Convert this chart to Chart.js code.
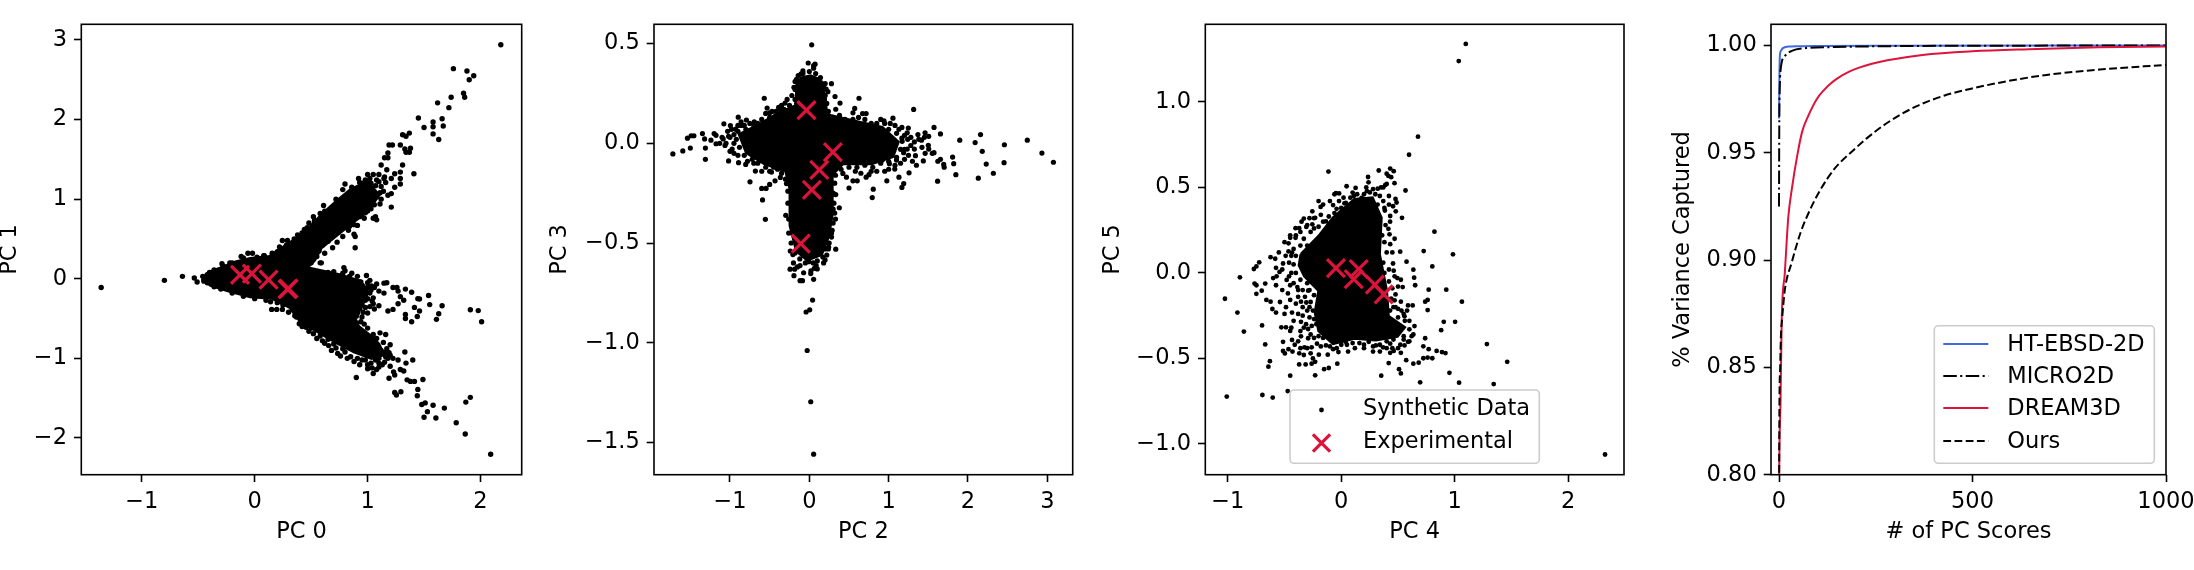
<!DOCTYPE html>
<html>
<head>
<meta charset="utf-8">
<style>
  html, body { margin: 0; background: #fff; overflow: hidden; }
  canvas { position: absolute; top: 0; }
</style>
<script src="https://cdn.jsdelivr.net/npm/chart.js@4"></script>
</head>
<body>
<canvas id="chart01" style="left:-3px"></canvas>
<canvas id="chart23" style="left:547px"></canvas>
<canvas id="chart45" style="left:1100px"></canvas>
<canvas id="chartVar" style="left:1670px"></canvas>
<script>
'use strict'

//------------- Tick values ------------- //
var ticksPc0 = [-1, 0, 1, 2];
var ticksPc1 = [-2, -1, 0, 1, 2, 3];
var ticksPc2 = [-1, 0, 1, 2, 3];
var ticksPc3 = [-1.5, -1.0, -0.5, 0.0, 0.5];
var ticksPc4 = [-1, 0, 1, 2];
var ticksPc5 = [-1.0, -0.5, 0.0, 0.5, 1.0];
var ticksScores = [0, 500, 1000];
var ticksVariance = [0.80, 0.85, 0.90, 0.95, 1.00];

//------------- PC 0 / PC 1 ------------- //
// outline of the solid black region, the dots around it are listed below
var core01 = [[-.47,0],[-.405,.08],[-.295,.14],[-.17,.21],[-.04,.255],[.13,.28],[.245,.39],[.37,.505],[.5,.665],[.59,.8],[.72,.97],[.85,1.12],[1,1.22],[1.1,1.05],[1,.85],[.88,.72],[.74,.56],[.59,.39],[.53,.23],[.465,.14],[.61,.095],[.75,.05],[.93,-.03],[1,-.16],[.95,-.35],[.88,-.47],[.92,-.6],[1.03,-.72],[1.1,-.82],[1.145,-.955],[1.035,-1],[.88,-.92],[.72,-.8],[.55,-.66],[.4,-.53],[.31,-.36],[.15,-.245],[-.04,-.225],[-.23,-.155],[-.39,-.085]];
var synth01 = [[-1.36,-.11],[-.8,-.02],[-.64,.03],[-.535,.01],[-.51,-.04],
  [2.18,2.94],[1.76,2.64],[1.88,2.61],[1.9,2.5],[1.94,2.55],[1.62,2.21],[1.74,2.28],[1.85,2.33],[1.86,2.28],[1.72,2.15],[1.45,2.02],[1.5,1.9],[1.58,1.97],[1.58,1.91],[1.66,2.01],[1.67,1.92],[1.58,1.82],[1.63,1.75],[1.31,1.81],[1.37,1.83],[1.34,1.79],[1.19,1.68],[1.22,1.68],[1.29,1.68],[1.33,1.63],[1.38,1.64],[1.37,1.59],[1.34,1.59],[1.18,1.58],[1.15,1.52],[1.18,1.52],[1.31,1.43],[1.12,1.43],[1.41,1.32],[1.29,1.34],[1.24,1.32],[1.17,1.37],[1.21,1.26],[1.29,1.26],[1.29,1.19],[1.24,1.15],[1.21,1.07],[1.21,.9],[1.07,.78],[1.05,.76],[1.08,.74],[.89,.39],[.89,.53],[.88,.56],[.79,.14],[.58,.2],
  [-.29,.19],[-.2,.2],[-.12,.28],[-.06,.32],[-.02,.32],[.085,.29],[.155,.32],[.245,.48],[.29,.48],[.42,.575],[.465,.64],[.53,.735],[.61,.92],[.72,1],[.8,1.19],[.78,1.12],[.86,1.15],[.92,1.26],[.93,1.21],[1,1.31],[1.05,1.31],[1.1,1.31],[1.145,1.26],[1.16,1.21],[1.07,1.17],[1.11,1.08],[1.05,1.01],[1,.92],[1.11,.94],[.97,.76],[.91,.67],[.83,.61],[.78,.53],[.73,.46],[.69,.39],[.62,.32],[.59,.2],
  [.8,.1],[.86,.07],[.91,.03],[.99,.04],[.94,-.04],[1.035,-.09],[1.08,-.065],[1.145,-.055],[1.17,-.05],[.91,-.11],[.97,-.155],[1.1,-.155],[1.145,-.18],[1.225,-.11],[1.26,-.11],[1.27,-.155],[1.335,-.13],[1.39,-.17],[1.445,-.25],[1.46,-.255],[1.54,-.21],[1.29,-.225],[1.32,-.27],[1.27,-.315],[1.225,-.385],[1.18,-.405],[1.1,-.34],[1.05,-.315],[1,-.43],[.91,-.43],[1.335,-.45],[1.415,-.36],[1.46,-.405],[1.335,-.5],[1.39,-.54],[1.44,-.475],[1.55,-.325],[1.66,-.34],[1.63,-.44],[1.61,-.51],[1.91,-.39],[1.98,-.4],[2.01,-.54],[.88,-.52],[.94,-.54],[.97,-.57],[.91,-.61],
  [1,-.73],[1.11,-.68],[1.16,-.7],[1.2,-.83],[1.225,-1],[1.33,-.92],[1.27,-1.02],[1.4,-1.02],[1.34,-1.06],[1.19,-1.25],[1.23,-1.17],[1.29,-1.14],[1.32,-1.16],[1.24,-1.21],[1.05,-1.19],[1.1,-1.11],[.9,-1.24],[1.35,-1.27],[1.38,-1.29],[1.415,-1.29],[1.49,-1.265],[1.24,-1.43],[1.255,-1.46],[1.295,-1.42],[1.445,-1.39],[1.44,-1.47],[1.48,-1.58],[1.51,-1.56],[1.58,-1.59],[1.53,-1.67],[1.5,-1.74],[1.605,-1.75],[1.68,-1.625],[1.87,-1.55],[1.91,-1.49],[1.785,-1.81],[1.865,-1.95],[2.09,-2.205],
  [.735,-.94],[.8,-.92],[.91,-1],[.655,-.84],[.62,-.81],[.52,-.69],[.455,-.61],[.395,-.565],[.355,-.465],[.245,-.385],[.195,-.385],[.15,-.385],[.14,-.29],[1.15,-1.05],[1.07,-1.02],[1,-1.08],[.95,-1.02],
  [.65,.72],[.7,.8],[.76,.87],[.72,.9],[.82,.97],[.78,.98],[.87,1.05],[.9,1.12],[.82,1.05],[.96,1.2],[.98,1.12],[1.03,1.2],[1.08,1.24],[1.12,1.16],[1.14,1.1],[1.08,1.03],[1.03,.96],[.97,.9],[.98,.83],[.93,.78],[.87,.74],[.88,.68],[.8,.65],[.74,.58],[.68,.52],[.65,.47],[.6,.42],[.57,.35],[.55,.28],[.5,.2],[.33,.43],[.4,.52],[.46,.58],[.56,.7],[.6,.76],
  [.65,.08],[.7,.09],[.78,.07],[.84,.03],[.93,-.04],[.96,-.1],[.98,-.2],[1.02,-.18],[1.05,-.24],[.98,-.27],[.95,-.33],[.93,-.38],[.88,-.4],[.83,-.44],[.8,-.47],[.84,-.5],[.9,-.56],[1,-.62],[1.05,-.7],[1.08,-.75],[1.14,-.8],[1.17,-.88],[1.15,-.93],[1.18,-1],[1.1,-1],[1.03,-1.06],[.98,-1.02],[.85,-.98],[.78,-.88],[.7,-.82],[.65,-.76],[.58,-.72],[.5,-.62],[.44,-.55],[.37,-.48],[.3,-.42],[.25,-.33],[.2,-.3],[.1,-.27],[0,-.25],[-.1,-.22],[-.2,-.18],[-.3,-.13],[-.36,-.1],[-.42,-.05],[-.42,.05],[-.36,.11],[-.28,.16],[-.22,.2],[-.1,.26],[.02,.27],[.08,.29],[.2,.34],[.28,.42],[.35,.5],[.42,.56],[.5,.62],[.53,.7],
  [.88,-.02],[.9,-.07],[.95,-.08],[1,-.05],[1.02,-.02],[.97,-.13],[1,-.11],[1.03,-.14],[1.06,-.11],[.96,-.22],[1,-.25],[1.04,-.28],[.92,-.25],[.94,-.3],[.98,-.36],[1.02,-.35],[1.06,-.38],[.9,-.33],[.88,-.37],[.96,-.42],[.86,-.43],[.84,-.47],[.9,-.47],[.95,-.48],[.82,-.53],[.87,-.58],[.92,-.66],[.96,-.7],[1.02,-.74],[1.04,-.8],[1.08,-.85],[1.12,-.9],[1.19,-.93],[1.16,-.98],[1.2,-.96],[1.1,-1.06],[1.13,-1.08],[1.2,-1.1],[1.08,-1.14],[1.04,-1.12],[1,-1.13],[.93,-1.08],[.88,-1.04],[.82,-1],[.76,-.97],[.72,-.87],[.68,-.9],[.6,-.78],[.55,-.75],[.48,-.66],[.42,-.6],
  [.55,.63],[.6,.68],[.64,.66],[.7,.65],[.76,.7],[.8,.76],[.84,.8],[.9,.85],[.94,.88],[1,.85],[1.03,.88],[1.06,.93],[1.12,1],[1.18,1.05],[.68,.85],[.74,.93],[.78,.93],[.84,1.02],[.9,1.05],[.98,1.24],[1.02,1.26],[1.1,1.22],[1.15,1.28],[.66,.78],[.62,.85],[.58,.82],[.52,.78],[.48,.7],[.44,.62],[.38,.55],[.3,.45],[.22,.4],[.66,.56],[.62,.5],[.6,.46],[.56,.44],[.74,.62],[.84,.66],
  [-.46,.03],[-.45,-.03],[-.4,.08],[-.35,.1],[-.38,-.07],[-.3,-.1]];
var exp01 = [[-.13,.05],[-.025,.064],[.123,-.01],[.29,-.13],[.3,-.125]];

//------------- PC 2 / PC 3 ------------- //
var core23 = [[-.117,.326],[.018,.339],[.144,.317],[.198,.226],[.221,.144],[.604,.108],[.919,.08],[1.12,.007],[1.054,-.066],[.784,-.102],[.423,-.102],[.288,-.157],[.288,-.357],[.243,-.467],[.153,-.558],[-.027,-.585],[-.162,-.54],[-.243,-.412],[-.243,-.23],[-.297,-.139],[-.568,-.102],[-.793,-.047],[-.883,.044],[-.613,.098],[-.387,.153],[-.162,.19],[-.162,.29]];
var synth23 = [[.03,.494],[-.014,.403],[.054,.39],[.072,.397],[.054,.377],[-.081,.363],[-.104,.348],[-.162,.321],[-.194,.281],[.279,.299],[.212,.272],[.234,.259],[.324,.235],[.387,.202],[.626,.226],[.572,.175],[.55,.153],[.671,.149],[.716,.149],[.333,.171],[1.315,.17],[-.568,.226],[-.532,.177],[-.5,.153],[-.387,.18],[-.306,.202],[-.365,.171],
  [-1.72,-.053],[-1.595,-.038],[-1.5,-.024],[-1.536,.026],[-1.49,.038],[-1.455,.038],[-1.347,.049],[-1.32,.022],[-1.31,-.024],[-1.31,-.08],[-1.24,.016],[-1.2,.049],[-1.176,.04],[-1.176,-.002],[-1.077,.098],[-1.086,.022],[-1.063,-.011],[-1.018,-.088],[-.995,.089],[-.896,.131],[-.86,.108],[-.793,.117],[-.694,.108],[-.95,.044],[-1.018,.035],[-.928,.071],[-.973,-.029],[-.892,-.097],[-.802,-.106],[-.748,-.193],[-.68,-.139],[-.6,-.226],[-.545,-.226],[-.5,-.206],[-.59,-.284],[-.554,-.381],[-.432,-.188],[-.365,-.171],[-.477,-.144],[-.288,-.202],[-.297,-.361],
  [-.243,-.631],[-.185,-.631],[-.194,-.664],[-.117,-.689],[-.086,-.689],[-.072,-.649],[.018,-.653],[.063,-.627],[.054,-.682],[.041,-.786],[.005,-.835],[-.041,-.846],[-.027,-1.039],[.018,-1.296],[.054,-1.559],[.333,-.531],[.198,-.585],[.288,-.436],[.378,-.323],[.333,-.257],[.288,-.257],[.198,-.467],[.243,-.521],[-.207,-.558],[-.117,-.613],[-.005,-.594],[.086,-.613],
  [1.054,.126],[.941,.113],[.806,.08],[1.167,.08],[1.248,.077],[1.234,.053],[1.572,.08],[1.459,.053],[1.369,.044],[1.505,.035],[1.653,.047],[1.896,.016],[2.09,.004],[2.158,.044],[2.459,-.007],[2.748,.016],[2.932,-.049],[3.077,-.095],[2.18,-.04],[2.23,-.104],[2.455,-.097],[2.32,-.15],[2.13,-.175],[1.847,-.157],[1.82,-.102],[1.806,-.069],[1.694,-.106],[1.653,-.08],[1.617,-.19],[1.572,-.047],[1.505,-.029],[1.437,-.088],[1.338,-.062],[1.257,-.148],[1.19,-.202],[1.167,-.221],[1.13,-.17],[1.077,-.129],[.977,-.188],[.806,-.23],[.793,-.272],[.752,-.157],[.716,-.17],[.604,-.188],[.55,-.188],[.5,-.224],[.468,-.17],[.423,-.151],[1.279,-.011],[1.324,.007],[1.414,.016],[1.189,-.047],[1.234,-.029],[1.167,.026],[1.324,-.029],[1.099,-.084],[1.009,-.102],[.919,-.084],
  [.7,.12],[.78,.1],[.85,.1],[.95,.1],[1,.07],[1.1,.05],[1.17,.01],[1.15,-.03],[1.1,-.07],[1,-.09],[.9,-.1],[.8,-.12],[.7,-.11],[.6,-.12],[.5,-.12],[.4,-.13],[.33,-.16],[.32,-.2],[.3,-.25],[.31,-.3],[.32,-.35],[.3,-.4],[.28,-.45],[.25,-.5],[.2,-.53],[.17,-.57],[.1,-.59],[.05,-.6],[-.05,-.6],[-.12,-.58],[-.18,-.55],[-.23,-.5],[-.26,-.45],[-.26,-.38],[-.27,-.3],[-.27,-.24],[-.3,-.18],[-.35,-.15],[-.45,-.12],[-.55,-.12],[-.65,-.1],[-.72,-.08],[-.82,-.06],[-.88,-.02],[-.92,.02],[-.9,.06],[-.8,.07],[-.7,.09],[-.6,.12],[-.5,.13],[-.42,.16],[-.32,.17],[-.25,.19],[-.18,.22],[-.18,.27],[-.18,.31],[-.14,.34],[-.08,.35],[0,.36],[.08,.35],[.14,.33],[.18,.28],[.2,.24],[.22,.2],[.24,.16],[.3,.13],[.38,.14],[.45,.12],[.55,.12],[.62,.13],
  [-1,.03],[-1.03,.06],[-.98,.07],[-.95,0],[-1.05,0],[-1.1,.03],[-1.13,0],[-1,-.04],[-.95,-.05],[-.9,-.06],[-.86,.09],[-.9,.09],[-.82,.09],[-.75,.1],[-.65,.1],[-.78,-.09],[-.7,-.1],[-.6,-.14],[-.5,-.14],[-.4,-.13],[-.47,.16],[-.55,.15],[-.35,.19],[-.28,.22],[-.22,.24],[-.24,.15],
  [1.2,.04],[1.24,.02],[1.28,.03],[1.2,-.03],[1.25,-.06],[1.3,-.09],[1.35,-.11],[1.2,-.08],[1.15,-.1],[1.08,-.11],[1,-.13],[.95,-.14],[.85,-.14],[.78,-.14],[.65,-.15],[.58,-.14],[.9,.12],[1.02,.1],[1.08,.09],[1.13,.07],[1.38,.02],[1.45,.03],[1.5,-.01],[1.55,-.05],[1.62,-.09],[1.7,-.12],[1.46,-.05],[1.42,-.02],
  [-.16,.27],[-.16,.2],[.2,.3],[.16,.3],[.19,.22],[-.22,-.45],[-.24,-.54],[.28,-.47],[.24,-.53],[.18,-.6],[.22,-.56],[.02,-.64],[-.15,-.62],[.1,-.63],[-.2,-.6],[.3,-.33],[.33,-.38]];
var exp23 = [[-.036,.166],[.297,-.044],[.126,-.133],[.032,-.233],[-.108,-.503]];

//------------- PC 4 / PC 5 ------------- //
var core45 = [[-.355,.109],[-.198,.215],[-.072,.322],[.116,.429],[.274,.439],[.352,.322],[.336,.109],[.399,-.104],[.415,-.254],[.557,-.318],[.494,-.371],[.305,-.392],[.116,-.382],[-.072,-.414],[-.198,-.339],[-.23,-.232],[-.198,-.104],[-.324,-.019],[-.371,.045]];
var synth45 = [[1.097,1.339],[1.035,1.239],[.676,.797],[.597,.691],[-.113,.593],[.047,.507],[.126,.497],[.236,.561],[.33,.599],[.431,.61],[.462,.595],[.415,.567],[.469,.525],[.387,.514],[.321,.493],[.252,.471],[.226,.478],[.566,.482],[.478,.433],[.487,.412],[.456,.39],[.384,.365],[.431,.333],[.535,.322],[.415,.258],[.425,.226],[.431,.168],[.519,.124],[.575,.066],[.456,.055],[.726,.128],[.821,.241],[.984,.109],[.802,.038],[.635,.019],[.642,-.028],[.651,-.072],[.77,-.098],[.925,-.098],[.761,-.158],[.739,-.168],[.761,-.217],[1.063,-.168],[.629,-.19],[.588,-.19],[.494,-.03],[.462,.013],[.525,-.04],[.541,-.083],[.478,-.126],[.525,-.168],[.478,-.2],[.557,-.254],[.645,-.311],[.635,-.36],[.588,-.403],[.557,-.424],[.525,-.467],[.572,-.51],[.462,-.456],[.431,-.467],[.418,-.527],[.509,-.563],[.525,-.588],[.352,-.601],[.635,-.531],[.682,-.525],[.723,-.499],[.761,-.495],[.802,-.499],[.739,-.382],[.723,-.429],[.77,-.446],[.84,-.456],[.887,-.463],[.918,-.469],[.88,-.335],[.903,-.286],[1.003,-.286],[1.283,-.416],[1.462,-.52],[.953,-.584],[1.038,-.642],[1.343,-.65],[.695,-.64],[2.324,-1.062],
  [-1.025,-.151],[-.915,-.232],[-.858,-.343],[-.893,-.026],[-1.009,-.723],[-.695,-.714],[-.604,-.729],[-.472,-.691],[-.45,-.601],[-.23,-.599],[-.151,-.563],[-.11,-.556],[-.035,-.531],[-.23,-.52],[-.261,-.531],[-.314,-.535],[-.371,-.535],[-.629,-.516],[-.642,-.548],[-.67,-.418],[-.698,-.307],[-.513,-.456],[-.497,-.471],[-.465,-.446],[-.513,-.403],[-.528,-.318],[-.487,-.318],[-.45,-.339],[-.434,-.392],[-.355,-.371],[-.292,-.328],[-.355,-.286],[-.434,-.232],[-.487,-.2],[-.45,-.158],[-.575,-.232],[-.607,-.211],[-.623,-.168],[-.66,-.158],[-.701,-.104],[-.67,-.062],[-.748,-.072],[-.764,-.062],[-.748,-.122],[-.575,-.072],[-.481,-.041],[-.45,-.072],[-.387,-.083],[-.355,-.168],[-.308,-.173],[-.292,-.104],[-.77,.023],[-.748,.038],[-.723,.062],[-.623,.092],[-.582,.083],[-.575,.03],[-.513,.055],[-.544,.006],[-.465,.126],[-.434,.119],[-.45,.205],[-.403,.205],[-.465,.173],[-.403,.262],[-.371,.262],[-.33,.318],[-.308,.269],[-.23,.322],[-.255,.284],[-.182,.386],[-.255,.36],[-.135,.301],[-.072,.397],[-.047,.467],[-.019,.465],[-.041,.375],[.028,.407],[.11,.45],[.179,.439],
  [-.292,-.382],[-.214,-.414],[-.135,-.424],[-.198,-.478],[-.119,-.478],[-.025,-.463],[-.072,-.446],[.038,-.403],[.242,-.403],[.305,-.424],[.368,-.435],[.431,-.414],[-.324,-.435],[-.261,-.435],
  [-.33,.2],[-.3,.16],[-.27,.24],[-.24,.26],[-.36,.16],[-.4,.1],[-.42,.05],[-.4,0],[-.36,-.04],[-.3,-.06],[-.28,-.1],[-.24,-.13],[-.27,-.17],[-.25,-.22],[-.28,-.26],[-.31,-.3],[-.26,-.31],[-.24,-.27],[-.22,-.3],[-.2,-.37],[-.16,-.38],[-.1,-.43],[-.04,-.44],[0,-.42],[.05,-.42],[.1,-.41],[.16,-.41],[.2,-.42],[.28,-.43],[.34,-.42],[.4,-.4],[.46,-.39],[.55,-.37],[.6,-.33],[.56,-.28],[.5,-.26],[.46,-.2],[.44,-.15],[.45,-.09],[.42,-.05],[.38,0],[.37,.06],[.4,.12],[.38,.18],[.36,.22],[.39,.28],[.38,.38],[.32,.4],[.3,.46],[.2,.46],[.14,.46],[.08,.44],[.04,.41],[0,.38],[-.06,.35],[-.11,.33],[-.16,.3],[-.2,.27],[.34,.45],[.37,.42],[.42,.45],[.35,.5],[.4,.52],[.44,.56],[.4,.58],
  [-.42,.14],[-.44,.1],[-.46,.06],[-.44,0],[-.46,-.02],[-.42,-.06],[-.38,-.1],[-.34,-.1],[-.38,-.14],[-.32,-.14],[-.28,-.2],[-.3,-.22],[-.34,-.2],[-.38,-.24],[-.34,-.25],[-.33,-.32],[-.27,-.36],[-.24,-.38],[-.36,-.34],[-.38,-.4],[-.41,-.42],[-.18,-.43],[-.3,-.44],[-.36,-.44],[-.3,.08],[-.36,.24],[-.3,.28],[-.24,.32],[-.18,.34],[-.2,.42],[-.16,.4],[-.1,.42],[-.06,.46],[-.28,.32],[-.35,.3],[-.4,.22],[-.45,.22],[-.52,.02],[-.49,.1],[-.5,.18],[-.55,.12],[-.57,-.02],[-.6,-.03],[-.52,-.1],[-.54,-.17],[-.5,-.24],[-.42,-.28],[-.4,-.18],[-.47,-.12],[-.44,-.32],[-.43,-.46],[-.37,-.47],[-.33,-.48],[-.27,-.47],[-.25,-.5],
  [.43,.3],[.47,.2],[.45,.12],[.42,.02],[.47,-.02],[.5,-.08],[.47,-.16],[.43,-.22],[.5,-.21],[.53,-.22],[.58,-.22],[.6,-.28],[.55,-.24],[.62,-.37],[.6,-.4],[.5,-.44],[.45,-.44],[.4,-.44],[.34,-.46],[.28,-.46],[.2,-.44],[.12,-.44],[.06,-.46],[.52,-.42],[.55,-.39],[.42,.4],[.48,.36],[.37,.5],[.28,.49],[.22,.5],[.24,.53],[.1,.47],[.02,.44],[-.02,.42]];
var exp45 = [[-.047,.028],[.154,.023],[.11,-.036],[.296,-.068],[.374,-.126]];

//------------- Variance curves ------------- //
var curveHtEbsd = [[0,.966],[0.5,.975],[1,.985],[2,.9945],[5,.9975],[10,.9988],[24,.9995],[50,.9997],[100,.9998],[300,.9999],[1000,1]];
var curveMicro2d = [[0,.925],[0.5,.955],[1,.9707],[2,.981],[5,.99],[15,.995],[33,.9975],[70,.9988],[143,.9993],[280,.9997],[500,.9999],[1000,1]];
var curveDream3d = [[0,.78],[0.5,.8],[4,.835],[7,.872],[15,.894],[24,.92],[33,.933],[47,.9486],[60,.96],[75,.967],[97,.9749],[115,.979],[135,.9825],[152,.9848],[180,.9877],[207,.9897],[240,.9915],[280,.9931],[371,.9956],[499,.9973],[645,.9983],[828,.9992],[1000,.9995]];
var curveOurs = [[0,.78],[1,.83],[3,.85],[5,.865],[8,.8726],[15,.886],[33,.899],[56,.913],[79,.923],[106,.9325],[143,.9425],[188,.9505],[225,.9565],[280,.964],[353,.9715],[426,.9766],[499,.98],[590,.9834],[691,.9863],[828,.9888],[1000,.991]];

var legendScatter = ['Synthetic Data', 'Experimental'];
var legendCurves = ['HT-EBSD-2D', 'MICRO2D', 'DREAM3D', 'Ours'];

var CRIMSON = '#dc143c';
var ROYALBLUE = '#4169e1';
var DASHDOT = [13.5, 3.4, 2.1, 3.4];
var DASHED = [7.8, 3.4];
var FONT_SIZE = 22.5;

Chart.defaults.font.family = '"DejaVu Sans"';
Chart.defaults.font.size = FONT_SIZE;
Chart.defaults.color = '#000';

function toPoints(pairs) {
  return pairs.map(function (p) { return { x: p[0], y: p[1] }; });
}

function closed(pairs) {
  return toPoints(pairs.concat([pairs[0]]));
}

function fmtMinus(digits) {
  return function (v) {
    return v.toFixed(digits).replace('-', '\u2212');
  };
}

// box spine on all four sides
var framePlugin = {
  id: 'frame',
  afterDraw: function (chart) {
    var a = chart.chartArea, c = chart.ctx;
    c.save();
    c.strokeStyle = '#000';
    c.lineWidth = 1.6;
    c.strokeRect(a.left, a.top, a.right - a.left, a.bottom - a.top);
    c.restore();
  }
};

// legend inside the plot area, the built in one can not be placed there
var boxLegendPlugin = {
  id: 'boxLegend',
  afterDraw: function (chart, args, opts) {
    if (!opts.items) return;
    var c = chart.ctx;
    var x0 = opts.x - chart.canvas.offsetLeft;
    c.save();
    c.beginPath();
    c.roundRect(x0, opts.y, opts.w, opts.h, 4);
    c.fillStyle = 'rgba(255,255,255,0.8)';
    c.fill();
    c.strokeStyle = '#ccc';
    c.lineWidth = 1.6;
    c.stroke();
    c.font = FONT_SIZE + 'px "DejaVu Sans"';
    c.textBaseline = 'middle';
    opts.items.forEach(function (it, i) {
      var y = opts.rows[i];
      var hx = x0 + 9;
      var hw = 45;
      if (it.kind === 'dot') {
        c.fillStyle = '#000';
        c.beginPath();
        c.arc(hx + hw / 2, y + 1, 2.4, 0, Math.PI * 2);
        c.fill();
      } else if (it.kind === 'cross') {
        var cx = hx + hw / 2, cy = y + 1, r = 8.6;
        c.strokeStyle = CRIMSON;
        c.lineWidth = 3.2;
        c.beginPath();
        c.moveTo(cx - r, cy - r); c.lineTo(cx + r, cy + r);
        c.moveTo(cx - r, cy + r); c.lineTo(cx + r, cy - r);
        c.stroke();
      } else {
        c.strokeStyle = it.color;
        c.lineWidth = 2;
        c.setLineDash(it.dash || []);
        c.beginPath();
        c.moveTo(hx, y - 1); c.lineTo(hx + hw, y - 1);
        c.stroke();
        c.setLineDash([]);
      }
      c.fillStyle = '#000';
      c.fillText(it.label, x0 + 73, y);
    });
    c.restore();
  }
};

function axis(cfg) {
  return {
    type: 'linear',
    min: cfg.min,
    max: cfg.max,
    title: { display: true, text: cfg.title, padding: 0, color: '#000' },
    border: { display: false },
    grid: { drawOnChartArea: false, drawTicks: true, tickLength: 7.3, tickWidth: 1.6, tickColor: '#000' },
    ticks: {
      padding: 7,
      maxRotation: 0,
      minRotation: 0,
      autoSkip: false,
      includeBounds: false,
      callback: fmtMinus(cfg.digits)
    },
    afterBuildTicks: function (s) {
      s.ticks = cfg.ticks.map(function (v) { return { value: v }; });
    },
    afterFit: function (s) {
      if (s.isHorizontal()) s.height = cfg.size;
      else s.width = cfg.size;
    }
  };
}

function makeChart(id, width, padRight, datasets, xAxis, yAxis, legendOpts) {
  var el = document.getElementById(id);
  el.width = width;
  el.height = 546;
  return new Chart(el.getContext('2d'), {
    type: 'scatter',
    data: { datasets: datasets },
    options: {
      responsive: false,
      animation: false,
      events: [],
      layout: { padding: { top: 24.3, right: padRight, bottom: 0, left: 0 } },
      scales: { x: axis(xAxis), y: axis(yAxis) },
      plugins: {
        legend: { display: false },
        tooltip: { enabled: false },
        boxLegend: legendOpts || {}
      }
    },
    plugins: [framePlugin, boxLegendPlugin]
  });
}

function scatterSets(core, synth, exp, dotRadius) {
  return [
    { label: 'Experimental', data: toPoints(exp), order: 1, pointStyle: 'crossRot', pointRadius: 12.7,
      pointBorderColor: CRIMSON, pointBackgroundColor: CRIMSON, pointBorderWidth: 3.2 },
    { label: 'Synthetic Data', data: toPoints(synth), order: 2, pointRadius: dotRadius,
      pointBackgroundColor: '#000', pointBorderWidth: 0 },
    { label: 'Synthetic Data core', data: closed(core), order: 3, showLine: true, fill: 'shape',
      backgroundColor: '#000', borderColor: '#000', borderWidth: 3, pointRadius: 0 }
  ];
}

function curveSet(label, pts, color, dash, order) {
  return { label: label, data: toPoints(pts), order: order, showLine: true, borderColor: color,
    backgroundColor: color, borderWidth: 2, borderDash: dash, pointRadius: 0,
    cubicInterpolationMode: 'monotone' };
}

makeChart('chart01', 560, 35.3, scatterSets(core01, synth01, exp01, 2.7),
  { min: -1.536, max: 2.365, ticks: ticksPc0, title: 'PC 0', digits: 0, size: 71.3 },
  { min: -2.462, max: 3.197, ticks: ticksPc1, title: 'PC 1', digits: 0, size: 84.3 });

makeChart('chart23', 550, 24.3, scatterSets(core23, synth23, exp23, 2.6),
  { min: -1.958, max: 3.32, ticks: ticksPc2, title: 'PC 2', digits: 0, size: 71.3 },
  { min: -1.662, max: 0.597, ticks: ticksPc3, title: 'PC 3', digits: 1, size: 107 });

makeChart('chart45', 550, 26, scatterSets(core45, synth45, exp45, 2.4),
  { min: -1.198, max: 2.491, ticks: ticksPc4, title: 'PC 4', digits: 0, size: 71.3 },
  { min: -1.18, max: 1.454, ticks: ticksPc5, title: 'PC 5', digits: 1, size: 105.3 },
  { x: 1290, y: 390, w: 249.3, h: 73.3, rows: [409, 442],
    items: [{ kind: 'dot', label: legendScatter[0] }, { kind: 'cross', label: legendScatter[1] }] });

makeChart('chartVar', 540, 44, [
    curveSet(legendCurves[3], curveOurs, '#000', DASHED, 1),
    curveSet(legendCurves[2], curveDream3d, CRIMSON, [], 2),
    curveSet(legendCurves[1], curveMicro2d, '#000', DASHDOT, 3),
    curveSet(legendCurves[0], curveHtEbsd, ROYALBLUE, [], 4)
  ],
  { min: -20.7, max: 1000, ticks: ticksScores, title: '# of PC Scores', digits: 0, size: 71.3 },
  { min: 0.80, max: 1.0099, ticks: ticksVariance, title: '% Variance Captured', digits: 2, size: 101 },
  { x: 1934.3, y: 325.8, w: 220, h: 137.5, rows: [345, 377, 409, 442],
    items: [
      { kind: 'line', label: legendCurves[0], color: ROYALBLUE },
      { kind: 'line', label: legendCurves[1], color: '#000', dash: DASHDOT },
      { kind: 'line', label: legendCurves[2], color: CRIMSON },
      { kind: 'line', label: legendCurves[3], color: '#000', dash: DASHED }
    ] });
</script>
</body>
</html>
